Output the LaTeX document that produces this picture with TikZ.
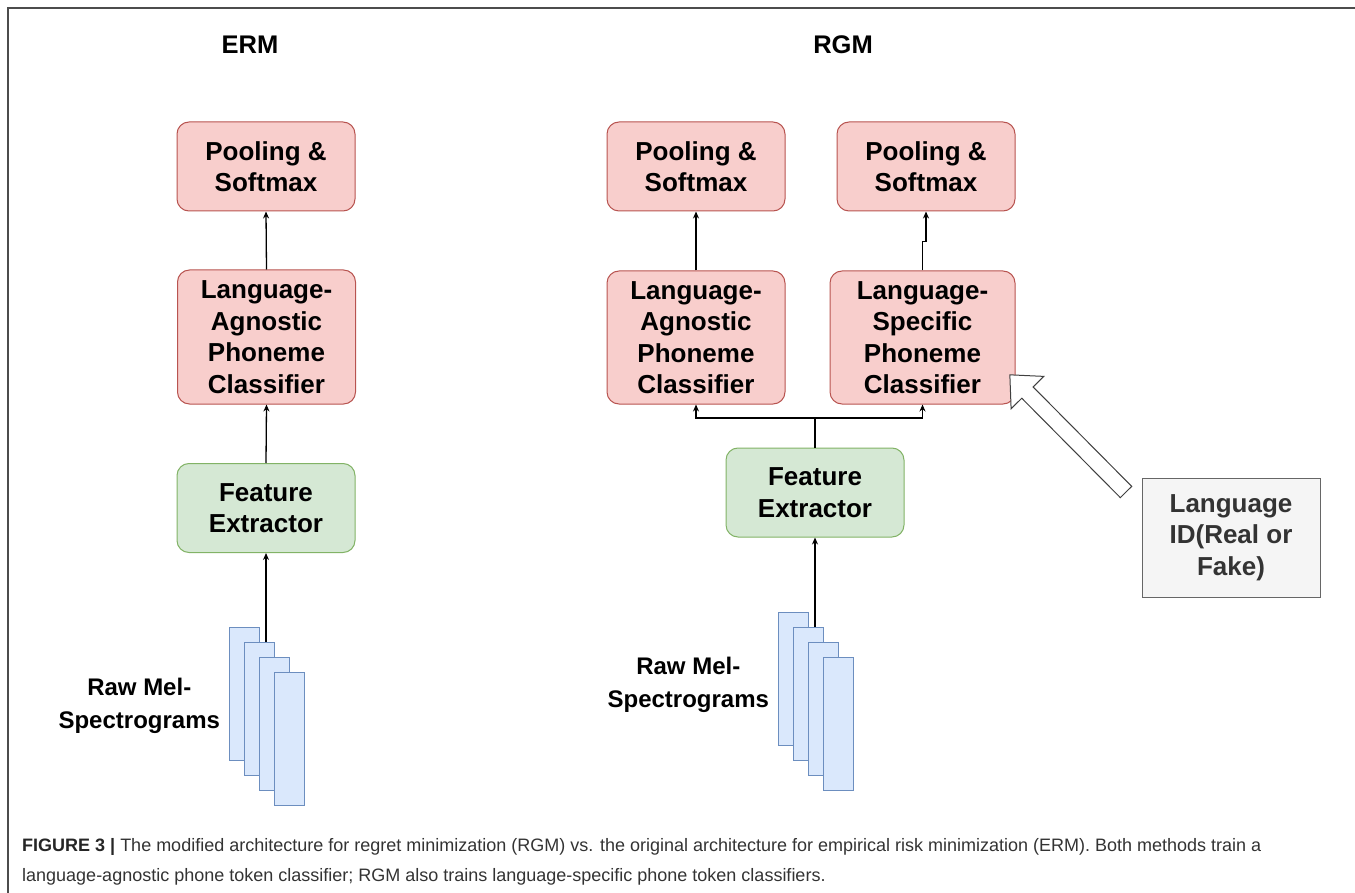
\documentclass[tikz,border=0pt]{standalone}
\usepackage{fontspec}
\setmainfont{Liberation Sans}
\usetikzlibrary{arrows.meta,calc}

\definecolor{redfill}{HTML}{F8CECC}
\definecolor{redline}{HTML}{B85450}
\definecolor{greenfill}{HTML}{D5E8D4}
\definecolor{greenline}{HTML}{82B366}
\definecolor{bluefill}{HTML}{DAE8FC}
\definecolor{blueline}{HTML}{6C8EBF}
\definecolor{grayfill}{HTML}{F5F5F5}
\definecolor{grayline}{HTML}{666666}
\definecolor{graytext}{HTML}{333333}

\tikzset{
  boxfont/.style={font=\fontsize{26}{31.5}\selectfont\bfseries},
  redbox/.style={draw=redline, fill=redfill, line width=1pt, rounded corners=12pt,
    minimum width=178pt, minimum height=89pt, align=center, boxfont},
  greenbox/.style={redbox, draw=greenline, fill=greenfill},
  idbox/.style={draw=grayline, fill=grayfill, line width=1pt, minimum width=178pt,
    minimum height=119pt, align=center, boxfont, text=graytext},
  spec/.style={draw=blueline, fill=bluefill, line width=1pt, minimum width=30pt,
    minimum height=133pt, inner sep=0pt},
  title/.style={font=\fontsize{25.5}{30}\selectfont\bfseries},
  speclabel/.style={align=center, font=\fontsize{24}{33}\selectfont\bfseries},
  conn/.style={line width=1.3pt, -{Stealth[length=7pt,width=6pt]}},
  hollow/.style={draw=black!75, fill=white, line width=1pt, line join=miter},
  frame/.style={draw=black!70, line width=1.5pt},
  caption/.style={anchor=base west, inner sep=0pt, text=graytext,
    font=\fontsize{18}{20}\selectfont}
}

\begin{document}
\begin{tikzpicture}[x=1pt, y=-1pt]

    \useasboundingbox (0,0) rectangle (1355,893);

    % Frame round the figure
    \draw[frame] (1355,8) -- (8,8) -- (8,893);

    % Titles
    \node[title] (ermtitle) at (250,45) {ERM};
    \node[title] (rgmtitle) at (843,45) {RGM};

    % ERM column
    \node[redbox] (ermpool) at (266,166.5) {Pooling \&\\Softmax};
    \node[redbox, minimum height=134pt] (ermlang) at (266.5,337) {Language-\\Agnostic\\Phoneme\\Classifier};
    \node[greenbox] (ermfeat) at (266,508) {Feature\\Extractor};

    % Stacked spectrograms for ERM
    \foreach \i in {0,...,3}
        \node[spec] (ermspec\i) at (244+15*\i, 693.5+15*\i) {};
    \node[speclabel, anchor=east] (ermlabel) at ($(ermspec0.north west)+(-5,79)$) {Raw Mel-\\Spectrograms};

    % ERM arrows
    \draw[conn] (ermspec1.north -| ermfeat.south) -- (ermfeat.south);
    \draw[conn] (ermfeat.north) -- (ermlang.south);
    \draw[conn] (ermlang.north) -- (ermpool.south);

    % RGM columns
    \node[redbox] (rgmpoola) at (696,166.5) {Pooling \&\\Softmax};
    \node[redbox] (rgmpools) at (926,166.5) {Pooling \&\\Softmax};
    \node[redbox, minimum height=133pt] (rgmlanga) at (696,337.5) {Language-\\Agnostic\\Phoneme\\Classifier};
    \node[redbox, minimum width=185pt, minimum height=133pt] (rgmlangs) at (922.5,337.5) {Language-\\Specific\\Phoneme\\Classifier};
    \node[greenbox] (rgmfeat) at (815,492.5) {Feature\\Extractor};
    \node[idbox] (langid) at (1231,537.5) {Language\\ID(Real or\\Fake)};

    % Stacked spectrograms for RGM
    \foreach \i in {0,...,3}
        \node[spec] (rgmspec\i) at (793+15*\i, 678.5+15*\i) {};
    \node[speclabel, anchor=east] (rgmlabel) at ($(rgmspec0.north west)+(-5,73)$) {Raw Mel-\\Spectrograms};

    % RGM arrows
    \coordinate (split) at (815,418);
    \draw[conn] (rgmspec1.north -| rgmfeat.south) -- (rgmfeat.south);
    \draw[line width=1.3pt] (rgmfeat.north) -- (split);
    \draw[conn] (split) -| (rgmlanga.south);
    \draw[conn] (split) -| (rgmlangs.south);
    \draw[conn] (rgmlanga.north) -- (rgmpoola.south);
    \draw[conn] (rgmlangs.north) -- ++(0,-29) -| (rgmpools.south);

    % Hollow arrow from the language ID
    \coordinate (idtail) at (1126,492);
    \begin{scope}[shift={(idtail)}, rotate=134.75]
        \draw[hollow] (0,-8) -- (140,-8) -- (140,-23) -- (165,0) -- (140,23) -- (140,8) -- (0,8) -- cycle;
    \end{scope}

    % Caption
    \node[caption] (cap1) at (22,851) {\textbf{\textcolor{black!85}{FIGURE 3 |}} The modified architecture for regret minimization (RGM) vs. the original architecture for empirical risk minimization (ERM). Both methods train a};
    \node[caption] (cap2) at (22,881) {language-agnostic phone token classifier; RGM also trains language-specific phone token classifiers.};

\end{tikzpicture}
\end{document}
